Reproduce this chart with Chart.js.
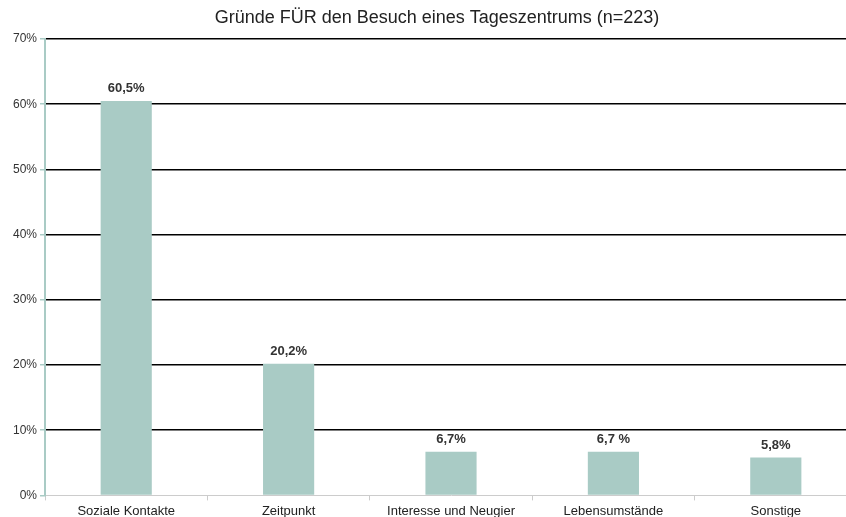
<!DOCTYPE html>
<html>
<head>
<meta charset="utf-8">
<script src="https://cdn.jsdelivr.net/npm/chart.js@4/dist/chart.umd.min.js"></script>
<style>
    html, body { margin: 0; padding: 0; background: #fff; overflow: hidden; }
    /* canvas a bit wider than the window: the original is cropped on the right */
    #wrap { width: 859px; height: 517px; }
</style>
</head>
<body>
<div id="wrap"><canvas id="myChart"></canvas></div>
<script>
var categories = ["Soziale Kontakte", "Zeitpunkt", "Interesse und Neugier", "Lebensumstände", "Sonstige"];
var values = [60.5, 20.2, 6.7, 6.7, 5.8];
var valueLabels = ["60,5%", "20,2%", "6,7%", "6,7 %", "5,8%"];
var yTicks = [0, 10, 20, 30, 40, 50, 60, 70];
var chartTitle = "Gründe FÜR den Besuch eines Tageszentrums (n=223)";

var barColor = "#a9cbc5";
var fontFam = "'Liberation Sans', Arial, sans-serif";

// value text above each bar + the title (drawn by hand so it sits a bit right of centre)
var barLabels = {
    id: "barLabels",
    afterDatasetsDraw: function (chart) {
        var ctx = chart.ctx;
        var meta = chart.getDatasetMeta(0);
        ctx.save();
        ctx.font = "bold 13px " + fontFam;
        ctx.fillStyle = "#333";
        ctx.textAlign = "center";
        ctx.textBaseline = "bottom";
        meta.data.forEach(function (bar, i) {
            ctx.fillText(valueLabels[i], bar.x, bar.y - 6);
        });

        ctx.font = "18px " + fontFam;
        ctx.fillStyle = "#222";
        ctx.textBaseline = "middle";
        ctx.fillText(chartTitle, 437, 18);
        ctx.restore();
    }
};

new Chart("myChart", {
    type: "bar",
    data: {
        labels: categories,
        datasets: [{
            data: values,
            backgroundColor: barColor,
            borderWidth: 0,
            categoryPercentage: 1.0,
            barPercentage: 0.315
        }]
    },
    plugins: [barLabels],
    options: {
        responsive: true,
        maintainAspectRatio: false,
        animation: false,
        layout: { padding: { left: 10, right: 2, top: 39, bottom: -5 } },
        plugins: {
            legend: { display: false },
            tooltip: { enabled: false },
            title: { display: false }
        },
        scales: {
            x: {
                grid: {
                    display: true,
                    drawOnChartArea: false,
                    tickColor: "#cccccc",
                    tickLength: 5
                },
                border: { color: "#cccccc", width: 1 },
                ticks: {
                    color: "#222",
                    font: { family: fontFam, size: 13 },
                    padding: 3
                }
            },
            y: {
                min: 0,
                max: 70,
                afterBuildTicks: function (axis) {
                    axis.ticks = yTicks.map(function (v) { return { value: v }; });
                },
                grid: {
                    color: function (c) { return c.tick && c.tick.value === 0 ? "rgba(0,0,0,0)" : "#000"; },
                    lineWidth: 1.5,
                    tickColor: barColor,
                    tickLength: 5
                },
                border: { color: barColor, width: 2 },
                ticks: {
                    color: "#333",
                    font: { family: fontFam, size: 12 },
                    padding: 3,
                    callback: function (v) { return v + "%"; }
                }
            }
        }
    }
});
</script>
</body>
</html>
